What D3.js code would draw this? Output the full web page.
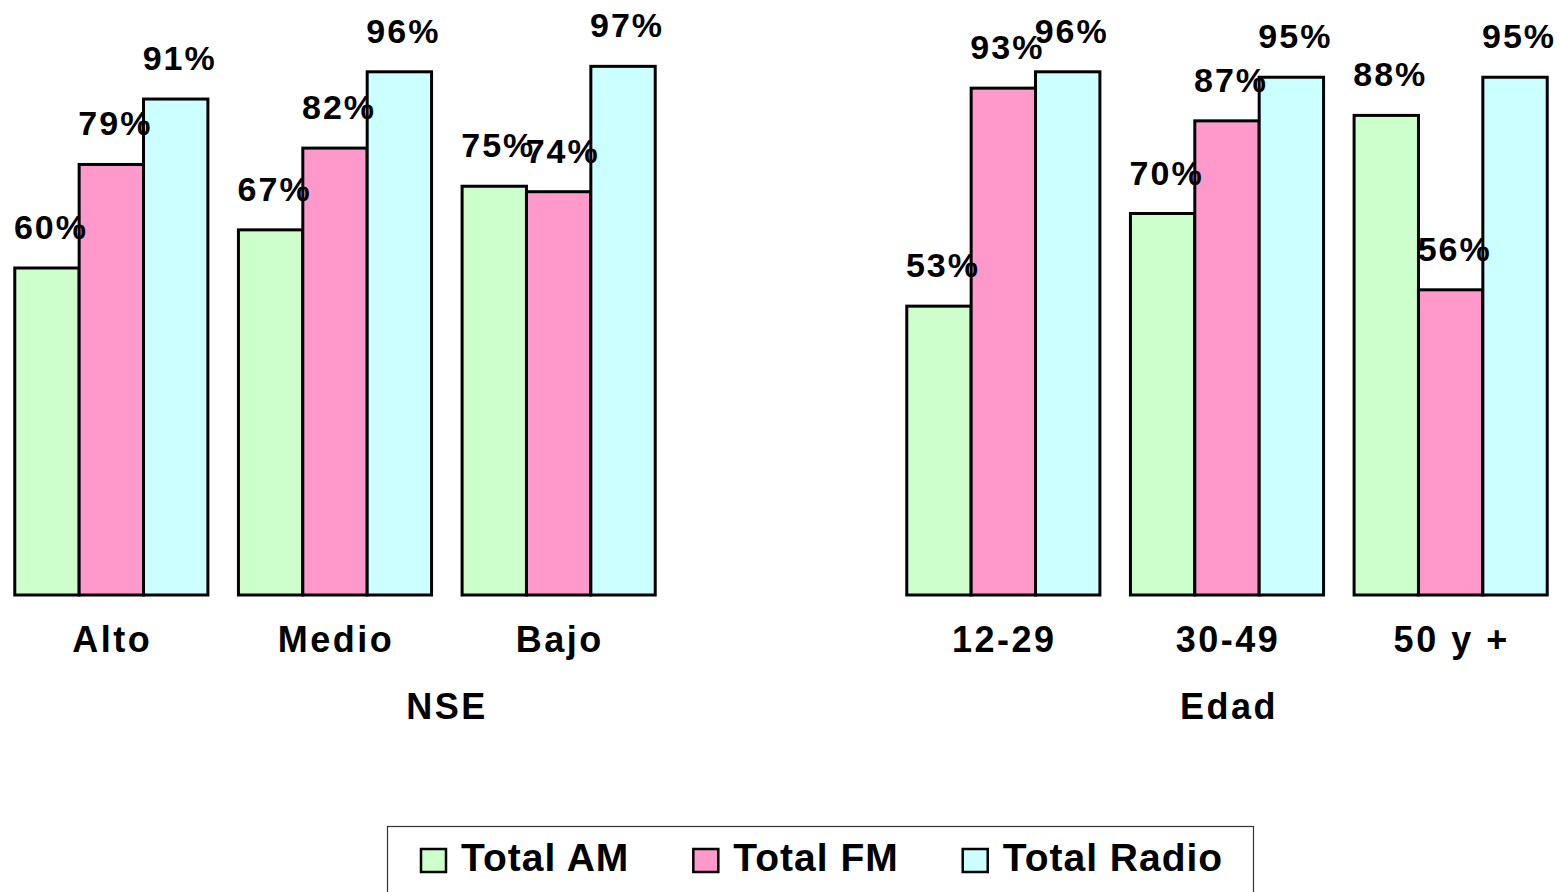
<!DOCTYPE html>
<html><head><meta charset="utf-8">
<script src="https://cdn.jsdelivr.net/npm/d3@7"></script>
<style>
html,body{margin:0;padding:0;background:#fff;}
svg{display:block;}
text{font-family:"Liberation Sans",Arial,sans-serif;font-weight:bold;fill:#000;}
</style></head>
<body>
<svg id="chart" width="1560" height="892"></svg>
<script>
const series = ["Total AM", "Total FM", "Total Radio"];
const colors = ["#CCFFCC", "#FF99CC", "#CCFFFF"];
const nseCategories = ["Alto", "Medio", "Bajo"];
const nseAM = [60, 67, 75];
const nseFM = [79, 82, 74];
const nseRadio = [91, 96, 97];
const edadCategories = ["12-29", "30-49", "50 y +"];
const edadAM = [53, 70, 88];
const edadFM = [93, 87, 56];
const edadRadio = [96, 95, 95];
const panelTitles = ["NSE", "Edad"];

const svg = d3.select("#chart");
const baseY = 595;
const y = d3.scaleLinear().domain([0, 100]).range([baseY, baseY - 545]);

const panels = [
  {cats: nseCategories, vals: [nseAM, nseFM, nseRadio], x0: -0.5, title: panelTitles[0], titleX: 446},
  {cats: edadCategories, vals: [edadAM, edadFM, edadRadio], x0: 891.5, title: panelTitles[1], titleX: 1228}
];

panels.forEach(p => {
  const g = svg.append("g").attr("transform", `translate(${p.x0},0)`);
  const x = d3.scaleBand().domain(p.cats).range([0, 671]).paddingInner(0.1365).paddingOuter(0.0683);
  const xs = d3.scaleBand().domain(series).range([0, x.bandwidth()]);
  p.cats.forEach((c, i) => {
    const cg = g.append("g").attr("transform", `translate(${x(c)},0)`);
    series.forEach((s, j) => {
      const v = p.vals[j][i];
      cg.append("rect")
        .attr("x", xs(s)).attr("y", y(v))
        .attr("width", xs.bandwidth()).attr("height", baseY - y(v))
        .attr("fill", colors[j]).attr("stroke", "#000").attr("stroke-width", 3);
    });
    series.forEach((s, j) => {
      const v = p.vals[j][i];
      cg.append("text")
        .attr("x", xs(s) + xs.bandwidth() / 2 + 4)
        .attr("y", y(v) - 29)
        .attr("text-anchor", "middle")
        .style("font-size", "34px").style("letter-spacing", "2px")
        .text(v + "%");
    });
    g.append("text")
      .attr("x", x(c) + x.bandwidth() / 2 + 1)
      .attr("y", 652)
      .attr("text-anchor", "middle")
      .style("font-size", "36px").style("letter-spacing", "2.5px")
      .text(c);
  });
  svg.append("text")
    .attr("x", p.titleX + 1).attr("y", 719)
    .attr("text-anchor", "middle")
    .style("font-size", "36px").style("letter-spacing", "2.5px")
    .text(p.title);
});

// legend
const lg = svg.append("g");
lg.append("rect").attr("x", 387.5).attr("y", 826.5).attr("width", 866).attr("height", 80)
  .attr("fill", "#fff").attr("stroke", "#333").attr("stroke-width", 1.2);
let lx = 421;
series.forEach((s, j) => {
  lg.append("rect").attr("x", lx).attr("y", 849).attr("width", 25).attr("height", 23)
    .attr("fill", colors[j]).attr("stroke", "#000").attr("stroke-width", 2.5);
  const t = lg.append("text").attr("x", lx + 40).attr("y", 871)
    .style("font-size", "39px").style("letter-spacing", "1px").text(s);
  const w = t.node().getComputedTextLength();
  lx = lx + 40 + w + 64;
});
</script>
</body></html>
